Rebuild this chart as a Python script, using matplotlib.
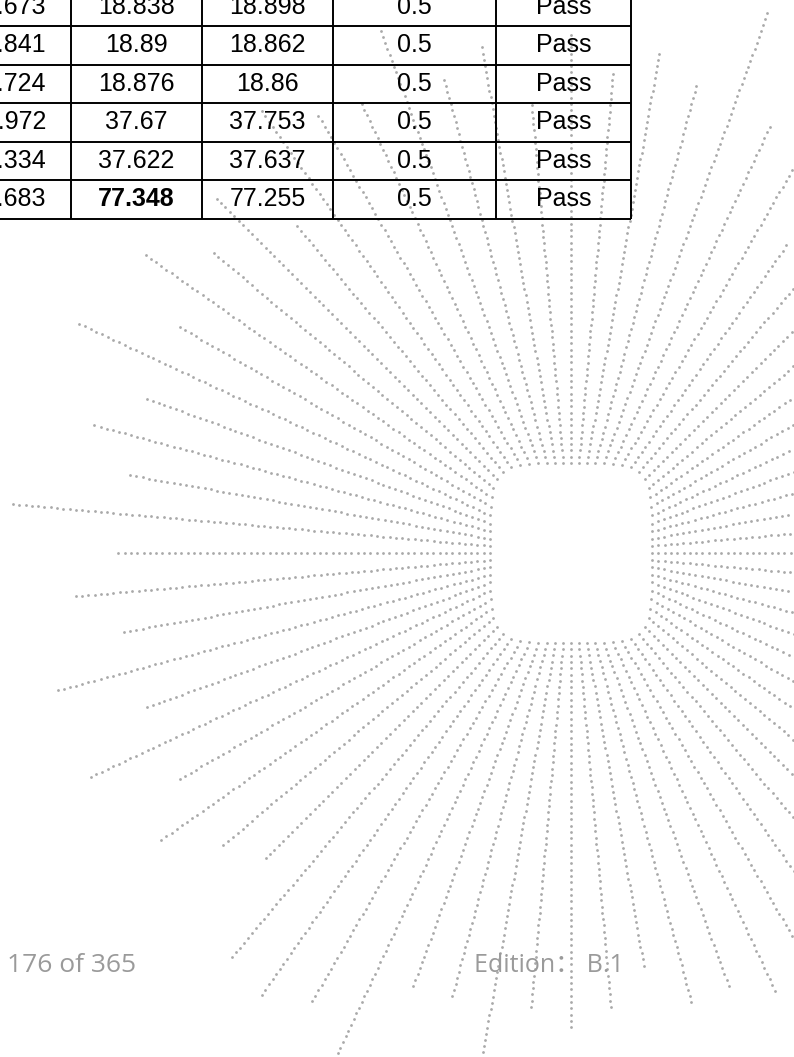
import numpy as np
import matplotlib.pyplot as plt

# table rows visible in the crop (first column is cut by the page edge)
col1 = ["18.673", "18.841", "18.724", "37.972", "37.334", "77.683"]
col2 = ["18.838", "18.89", "18.876", "37.67", "37.622", "77.348"]
col3 = ["18.898", "18.862", "18.86", "37.753", "37.637", "77.255"]
col4 = ["0.5", "0.5", "0.5", "0.5", "0.5", "0.5"]
col5 = ["Pass", "Pass", "Pass", "Pass", "Pass", "Pass"]
bold_cells = [(5, 0)]  # (row, column after the cut one)

# background starburst: one ray every 5 degrees, outer radius in px
ray_angles = np.arange(0, 360, 5)
ray_ends = [600, 600, 600, 600, 600, 600, 600, 600, 600, 600, 600, 377,
            600, 471, 580, 488, 513, 485, 523, 455, 519, 495, 556, 500,
            507, 544, 430, 502, 468, 520, 454, 549, 454, 499, 453, 564,
            454, 501, 455, 533, 455, 535, 457, 503, 459, 433, 530, 545,
            519, 560, 461, 460, 520, 462, 477, 462, 420, 469, 462, 483,
            460, 600, 600, 600, 600, 600, 600, 600, 600, 600, 600, 600]

page_no = "176 of 365"
edition = "Edition： B.1"

fig = plt.figure(figsize=(7.94, 10.57), dpi=100)
ax = fig.add_axes([0, 0, 1, 1])
ax.set_xlim(0, 794)
ax.set_ylim(1057, 0)
ax.axis('off')

# rays start on a rounded square around the centre
cx, cy = 571, 553
half_w, half_h, n = 81, 90, 5
dot_gap = 6.3
for ang, r_end in zip(ray_angles, ray_ends):
    t = np.radians(ang)
    c, s = np.cos(t), np.sin(t)
    r0 = 1.0 / ((abs(c) / half_w) ** n + (abs(s) / half_h) ** n) ** (1.0 / n)
    rr = np.arange(r0, r_end, dot_gap)
    ax.plot(cx + rr * c, cy - rr * s, 'o', ms=2.0, mew=0,
            color='#a9a9a9', zorder=1)

# table grid
row_lines = [26, 64.5, 103, 141.5, 180, 218.5]
col_lines = [71, 202, 333, 496, 631]
ax.hlines(row_lines, 0, 631, color='black', lw=1.4, zorder=3)
ax.vlines(col_lines, 0, 218.5, color='black', lw=1.4, zorder=3)

row_mid = [6.5, 45.3, 83.8, 122.3, 160.8, 199.3]
col_mid = [136.5, 267.5, 414.5, 563.5]
font = ['Liberation Sans', 'DejaVu Sans']
for i, y in enumerate(row_mid):
    ax.text(46, y, col1[i], ha='right', va='center', fontsize=18,
            family=font, zorder=4)
    for j, vals in enumerate([col2, col3, col4, col5]):
        weight = 'bold' if (i, j) in bold_cells else 'normal'
        ax.text(col_mid[j], y, vals[i], ha='center', va='center',
                fontsize=18, family=font, fontweight=weight, zorder=4)

# footer
foot_font = ['Open Sans', 'Noto Sans CJK SC', 'DejaVu Sans']
ax.text(7, 966, page_no, ha='left', va='center', fontsize=19,
        color='#9a9a9a', family=foot_font, zorder=4)
ax.text(474, 966, edition, ha='left', va='center', fontsize=18,
        color='#9a9a9a', family=foot_font, zorder=4)

fig.savefig('out.png', dpi=100)
plt.close(fig)
